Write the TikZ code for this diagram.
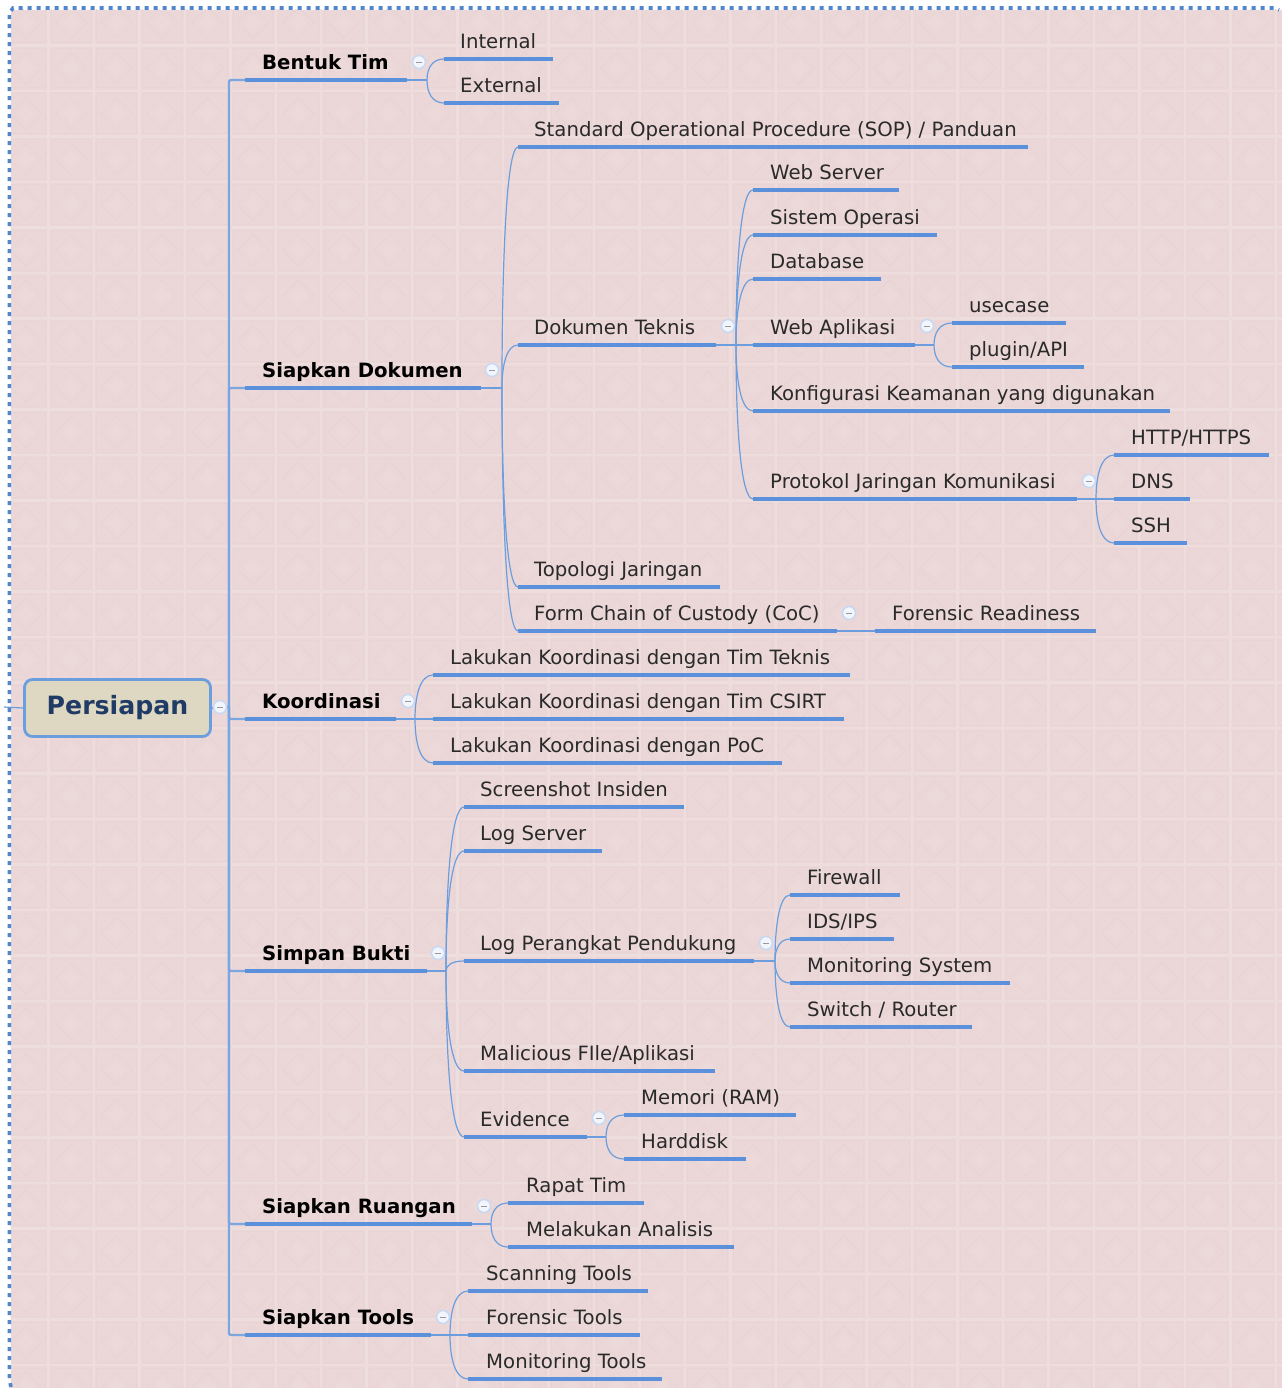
\documentclass[tikz,border=0pt]{standalone}
\usepackage{fontspec}
\setmainfont{DejaVu Sans}
\usetikzlibrary{calc}
\definecolor{bgpink}{HTML}{EBD7D8}
\definecolor{tileline}{HTML}{EEDDDD}
\definecolor{tilemark}{HTML}{E9D4D5}
\definecolor{tilecore}{HTML}{ECD9DA}
\definecolor{mapblue}{HTML}{5B90DA}
\definecolor{thinblue}{HTML}{6C9EDE}
\definecolor{spineblue}{HTML}{7BA6E0}
\definecolor{dotblue}{HTML}{4F86CC}
\definecolor{rootfill}{HTML}{DED8C2}
\definecolor{rootink}{HTML}{1F3B66}
\definecolor{textink}{HTML}{2A2A2A}
\tikzset{
  underline/.style={draw=mapblue,line width=3.6pt},
  thinlink/.style={draw=thinblue,line width=1.2pt},
  spine/.style={draw=spineblue,line width=2.4pt,rounded corners=2pt},
  lab/.style={anchor=base west,inner sep=0pt,font=\fontsize{19.7}{24}\selectfont,text=textink},
  mainlab/.style={anchor=base west,inner sep=0pt,font=\fontsize{19.7}{24}\selectfont\bfseries,text=black},
  rootbox/.style={draw=thinblue,line width=2.8pt,fill=rootfill,rounded corners=8pt,minimum width=186pt,minimum height=57pt,inner sep=0pt,font=\fontsize{25.2}{30}\selectfont\bfseries,text=rootink},
  fold/.style={circle,draw=white!65!mapblue,line width=1.5pt,fill=white!92!mapblue,minimum size=13pt,inner sep=0pt},
}
% topic: name, left x, right x, underline y, text x, text
\newcommand{\topic}[7][lab]{%
  \coordinate (#2-l) at (#3,#5);
  \coordinate (#2-r) at (#4,#5);
  \node[#1] (#2) at (#6,#5-10.5) {#7};
  \draw[underline] (#2-l) -- (#2-r);
}
% fork: parent, fork x, list of children
\newcommand{\forkat}[3]{%
  \coordinate (#1-fork) at (#2,0 |- #1-r);
  \draw[thinlink] (#1-r) -- (#1-fork);
  \foreach \kid in {#3} {
    \draw[thinlink] (#1-fork) .. controls ($(#1-fork)!0.55!(#1-fork |- \kid-l)$) and ($(\kid-l)!0.7!(#1-fork |- \kid-l)$) .. (\kid-l);
  }
}
\newcommand{\foldmark}[3]{%
  \node[fold] (#1) at (#2,#3) {};
  \draw[draw=black!40,line width=0.9pt] ($(#1)+(-3,0)$) -- ($(#1)+(3,0)$);
}
\begin{document}
\begin{tikzpicture}[x=1pt,y=-1pt]
\useasboundingbox (0,0) rectangle (1282,1388);
\fill[white] (0,0) rectangle (1282,1388);
\fill[bgpink] (10.5,10) rectangle (1282,1388);
% tiled backdrop
\begin{scope}
\clip (10.5,10) rectangle (1282,1388);
\foreach \i in {0,...,28} \foreach \j in {0,...,30} {
  \pgfmathsetmacro{\tx}{3+45.46*\i}
  \pgfmathsetmacro{\ty}{45.5*\j}
  \draw[tilemark,line width=1pt] (\tx+3,\ty+3) rectangle (\tx+42.5,\ty+42.5);
  \draw[tilemark,line width=0.8pt] (\tx+22.7,\ty+7) -- (\tx+38.5,\ty+22.7) -- (\tx+22.7,\ty+38.5) -- (\tx+7,\ty+22.7) -- cycle;
  \fill[tilecore] (\tx+22.7,\ty+14) -- (\tx+31.5,\ty+22.7) -- (\tx+22.7,\ty+31.5) -- (\tx+14,\ty+22.7) -- cycle;
}
\foreach \i in {0,...,28} \draw[tileline,line width=2.4pt] ({3+45.46*\i},0) -- ({3+45.46*\i},1388);
\foreach \j in {0,...,30} \draw[tileline,line width=2.4pt] (0,{45.5*\j}) -- (1282,{45.5*\j});
\end{scope}
% dotted frame
\draw[dotblue,line width=3.6pt,dash pattern=on 4pt off 5pt] (11,1387) -- (9.4,1380) -- (9.4,13) -- (13,8) -- (1274,8) -- (1279,10);

% root
\node[rootbox] (root) at (117.5,708) {Persiapan};
\coordinate (stub) at (4,707);
\draw[thinlink] (stub) -- (root.west);

% main topics
\topic[mainlab]{tim}{245}{407}{80}{262}{Bentuk Tim}
\topic[mainlab]{dok}{245}{481}{388}{262}{Siapkan Dokumen}
\topic[mainlab]{koor}{245}{396}{719}{262}{Koordinasi}
\topic[mainlab]{bukti}{245}{427}{971}{262}{Simpan Bukti}
\topic[mainlab]{ruang}{245}{472}{1224}{262}{Siapkan Ruangan}
\topic[mainlab]{tools}{245}{431}{1335}{262}{Siapkan Tools}

% spine
\coordinate (sp) at (229,707);
\draw[spine] (root.east) -- (sp);
\foreach \t in {tim,dok,koor,bukti,ruang,tools} \draw[spine] (sp) |- (\t-l);

% Bentuk Tim
\topic{internal}{444}{553}{59}{460}{Internal}
\topic{external}{444}{559}{103}{460}{External}
\forkat{tim}{427}{internal,external}

% Siapkan Dokumen
\topic{sop}{518}{1028}{147}{534}{Standard Operational Procedure (SOP) / Panduan}
\topic{teknis}{518}{716}{345}{534}{Dokumen Teknis}
\topic{topo}{518}{720}{587}{534}{Topologi Jaringan}
\topic{form}{518}{837}{631}{534}{Form Chain of Custody (CoC)}
\forkat{dok}{502}{sop,teknis,topo,form}
\topic{webserver}{753}{899}{190}{770}{Web Server}
\topic{sistem}{753}{937}{235}{770}{Sistem Operasi}
\topic{database}{753}{881}{279}{770}{Database}
\topic{webapp}{753}{915}{345}{770}{Web Aplikasi}
\topic{konfig}{753}{1170}{411}{770}{Konfigurasi Keamanan yang digunakan}
\topic{protokol}{753}{1077}{499}{770}{Protokol Jaringan Komunikasi}
\forkat{teknis}{736}{webserver,sistem,database,webapp,konfig,protokol}
\topic{usecase}{952}{1066}{323}{969}{usecase}
\topic{plugin}{952}{1084}{367}{969}{plugin/API}
\forkat{webapp}{934}{usecase,plugin}
\topic{http}{1114}{1269}{455}{1131}{HTTP/HTTPS}
\topic{dns}{1114}{1190}{499}{1131}{DNS}
\topic{ssh}{1114}{1187}{543}{1131}{SSH}
\forkat{protokol}{1096}{http,dns,ssh}
\topic{readiness}{875}{1096}{631}{892}{Forensic Readiness}
\draw[thinlink] (form-r) -- (readiness-l);

% Koordinasi
\topic{lk1}{433}{850}{675}{450}{Lakukan Koordinasi dengan Tim Teknis}
\topic{lk2}{433}{844}{719}{450}{Lakukan Koordinasi dengan Tim CSIRT}
\topic{lk3}{433}{782}{763}{450}{Lakukan Koordinasi dengan PoC}
\forkat{koor}{415}{lk1,lk2,lk3}

% Simpan Bukti
\topic{shot}{464}{684}{807}{480}{Screenshot Insiden}
\topic{logsrv}{464}{602}{851}{480}{Log Server}
\topic{logdev}{464}{754}{961}{480}{Log Perangkat Pendukung}
\topic{malware}{464}{715}{1071}{480}{Malicious FIle/Aplikasi}
\topic{evid}{464}{587}{1137}{480}{Evidence}
\forkat{bukti}{446}{shot,logsrv,logdev,malware,evid}
\topic{fw}{790}{900}{895}{807}{Firewall}
\topic{ids}{790}{894}{939}{807}{IDS/IPS}
\topic{monsys}{790}{1010}{983}{807}{Monitoring System}
\topic{switch}{790}{972}{1027}{807}{Switch / Router}
\forkat{logdev}{775}{fw,ids,monsys,switch}
\topic{ram}{624}{796}{1115}{641}{Memori (RAM)}
\topic{hdd}{624}{746}{1159}{641}{Harddisk}
\forkat{evid}{606}{ram,hdd}

% Siapkan Ruangan
\topic{rapat}{508}{644}{1203}{526}{Rapat Tim}
\topic{analisis}{508}{734}{1247}{526}{Melakukan Analisis}
\forkat{ruang}{491}{rapat,analisis}

% Siapkan Tools
\topic{scan}{468}{648}{1291}{486}{Scanning Tools}
\topic{forens}{468}{640}{1335}{486}{Forensic Tools}
\topic{montool}{468}{662}{1379}{486}{Monitoring Tools}
\forkat{tools}{450}{scan,forens,montool}

% collapse markers
\foldmark{f1}{220}{707}
\foldmark{f2}{419}{62}
\foldmark{f3}{492}{370}
\foldmark{f4}{728}{326}
\foldmark{f5}{927}{326}
\foldmark{f6}{1089}{481}
\foldmark{f7}{849}{613}
\foldmark{f8}{408}{701}
\foldmark{f9}{438}{953}
\foldmark{f10}{766}{943}
\foldmark{f11}{599}{1118}
\foldmark{f12}{484}{1206}
\foldmark{f13}{443}{1317}
\end{tikzpicture}
\end{document}
